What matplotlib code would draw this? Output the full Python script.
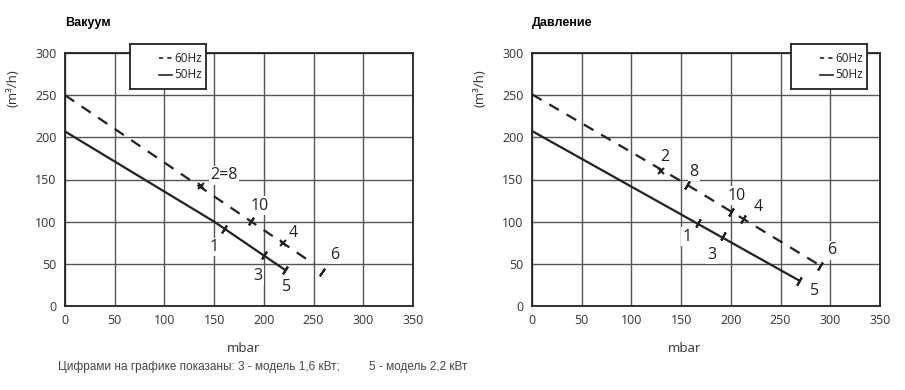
import matplotlib
matplotlib.use("Agg")
import matplotlib.pyplot as plt
import numpy as np

# ---------------- data ----------------
titles = ["Вакуум", "Давление"]
x_ticks = [0, 50, 100, 150, 200, 250, 300, 350]
y_ticks = [0, 50, 100, 150, 200, 250, 300]

# Vacuum
vac60_x = [0, 250]
vac60_y = [250, 50]
vac50_x = [0, 150, 221]
vac50_y = [207, 100, 43]
vac60_mx = [137, 187, 219, 258]
vac60_my = [142, 101, 75, 40]
vac60_mk = ["x", "t", "x", "t"]
vac50_mx = [160, 200, 221]
vac50_my = [91, 60, 43]
vac50_mk = ["t", "t", "t"]
vac_lbl = ["2=8", "10", "4", "6", "1", "3", "5"]
vac_lx = [160, 196, 229, 271, 150, 194, 223]
vac_ly = [155, 119, 86, 61, 70, 36, 22]

# Pressure
pr60_x = [0, 150, 287]
pr60_y = [251, 148, 50]
pr50_x = [0, 269]
pr50_y = [207.5, 30]
pr60_mx = [130, 156, 200, 212, 290]
pr60_my = [160, 144, 112, 103, 48]
pr60_mk = ["x", "t", "t", "t", "t"]
pr50_mx = [167, 192, 269]
pr50_my = [99, 83, 30]
pr50_mk = ["t", "t", "t"]
pr_lbl = ["2", "8", "10", "4", "6", "1", "3", "5"]
pr_lx = [134, 163, 206, 227, 301, 156, 181, 284]
pr_ly = [177, 159, 131, 117, 66, 82, 61, 18]

legend_labels = ["60Hz", "50Hz"]
xlabel = "mbar"
ylabel = "(m³/h)"
footnote = "Цифрами на графике показаны: 3 - модель 1,6 кВт;         5 - модель 2,2 кВт"

# ---------------- drawing ----------------
plt.rcParams['font.family'] = ['Liberation Sans', 'DejaVu Sans']
fig = plt.figure(figsize=(9.05, 3.9), dpi=100)

W, H = 905, 390
axes_px = [(65, 53, 348, 253), (532, 53, 348, 253)]
legend_px = [(130, 44, 76, 45), (791, 44, 76, 45)]
mbar_x = [180, 153]

datasets = [
    (vac60_x, vac60_y, vac50_x, vac50_y, vac60_mx, vac60_my, vac60_mk,
     vac50_mx, vac50_my, vac50_mk, vac_lbl, vac_lx, vac_ly),
    (pr60_x, pr60_y, pr50_x, pr50_y, pr60_mx, pr60_my, pr60_mk,
     pr50_mx, pr50_my, pr50_mk, pr_lbl, pr_lx, pr_ly),
]

tick_color = "#333333"
grid_color = "#555555"
sans2 = ["Open Sans", "DejaVu Sans"]

for i, (ds, (px, py, pw, ph)) in enumerate(zip(datasets, axes_px)):
    (x60, y60, x50, y50, m60x, m60y, m60k, m50x, m50y, m50k, lbl, lx, ly) = ds
    ax = fig.add_axes([px / W, 1 - (py + ph) / H, pw / W, ph / H])
    ax.set_xlim(0, 350)
    ax.set_ylim(0, 300)
    ax.set_xticks(x_ticks)
    ax.set_yticks(y_ticks)
    ax.grid(True, color=grid_color, linewidth=1.0)
    ax.set_axisbelow(True)
    ax.tick_params(length=0, labelsize=9, colors=tick_color, pad=6)
    for lab in ax.get_xticklabels() + ax.get_yticklabels():
        lab.set_family(sans2)
    for s in ax.spines.values():
        s.set_color("#222222")
        s.set_linewidth(1.3)

    ax.plot(x60, y60, color="#222222", lw=1.6, ls=(0, (5, 4)), zorder=3)
    ax.plot(x50, y50, color="#222222", lw=1.6, ls="-", zorder=3)

    sx = pw / 350.0
    sy = ph / 300.0
    for (mx, my, mk, xs, ys) in [(m60x, m60y, m60k, x60, y60), (m50x, m50y, m50k, x50, y50)]:
        slope = (ys[-1] - ys[0]) / (xs[-1] - xs[0])
        ang = np.degrees(np.arctan(slope * sy / sx))
        for xx, yy, k in zip(mx, my, mk):
            if k == "x":
                ax.plot([xx], [yy], marker="x", ms=4.5, mew=1.5, color="#222222", zorder=4)
            else:
                ax.plot([xx], [yy], marker=(2, 2, ang), ms=6.5, mew=1.5,
                        color="#222222", zorder=4)

    for t, xx, yy in zip(lbl, lx, ly):
        ax.text(xx, yy, t, ha="center", va="center", fontsize=11.5,
                color="#222222", family=sans2,
                bbox=dict(facecolor="white", edgecolor="none", pad=1.0), zorder=5)

    ax.text(mbar_x[i], -50, xlabel, ha="center", va="center", fontsize=9.5,
            color=tick_color, family=sans2, clip_on=False)
    ax.text(-52, 258, ylabel, ha="center", va="center", rotation=90,
            fontsize=9.5, color=tick_color, family=sans2, clip_on=False)
    ax.text(0, 335, titles[i], ha="left", va="center", fontsize=9,
            fontweight="bold", color="black", clip_on=False)

    # legend box
    lxp, lyp, lwp, lhp = legend_px[i]
    lax = fig.add_axes([lxp / W, 1 - (lyp + lhp) / H, lwp / W, lhp / H])
    lax.set_xlim(0, 1)
    lax.set_ylim(0, 1)
    lax.set_xticks([])
    lax.set_yticks([])
    lax.set_facecolor("white")
    for s in lax.spines.values():
        s.set_color("#222222")
        s.set_linewidth(1.3)
    lax.plot([0.38, 0.55], [0.68, 0.68], color="#222222", lw=1.2, ls=(0, (2.5, 2.5)))
    lax.plot([0.38, 0.55], [0.32, 0.32], color="#222222", lw=1.2, ls="-")
    lax.text(0.58, 0.68, legend_labels[0], ha="left", va="center", fontsize=8.5,
             color="#222222", family=sans2)
    lax.text(0.58, 0.32, legend_labels[1], ha="left", va="center", fontsize=8.5,
             color="#222222", family=sans2)

fig.text(58 / W, 1 - 367 / H, footnote, ha="left", va="center", fontsize=8.5,
         color="#444444")

fig.savefig("out.png", dpi=100)
